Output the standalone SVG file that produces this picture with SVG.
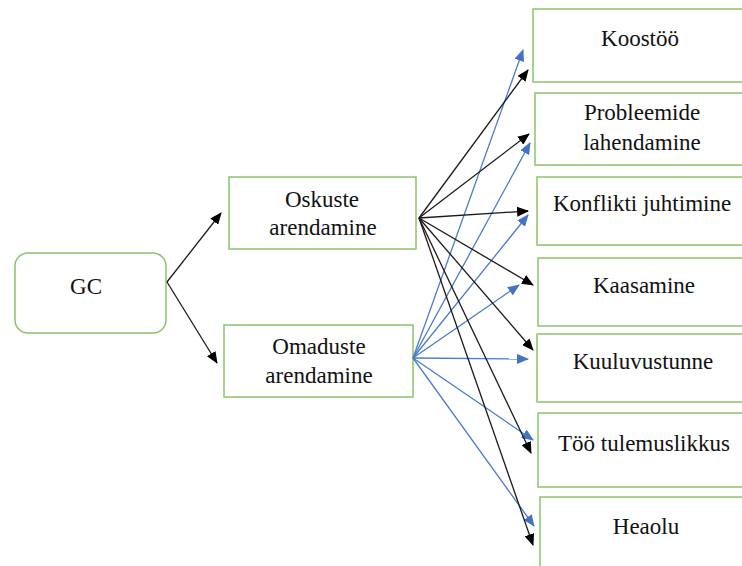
<svg xmlns="http://www.w3.org/2000/svg" width="742" height="566" viewBox="0 0 742 566">
<style>
.box{fill:#fff;stroke:#8cc36c;stroke-width:1.5}
.t{font-family:"Liberation Serif","Times New Roman","DejaVu Serif",serif;font-size:23px;fill:#111;text-anchor:middle}
.k{stroke:#1a1a1a;stroke-width:1.3;fill:none}
.b{stroke:#4a7cc9;stroke-width:1.3;fill:none}
</style>
<defs>
<marker id="ak" markerUnits="userSpaceOnUse" markerWidth="12" markerHeight="10" refX="11" refY="5" orient="auto">
<path d="M0,0 L12,5 L0,10 Z" fill="#000"/>
</marker>
<marker id="ab" markerUnits="userSpaceOnUse" markerWidth="12" markerHeight="10" refX="11" refY="5" orient="auto">
<path d="M0,0 L12,5 L0,10 Z" fill="#4472c4"/>
</marker>
</defs>
<rect width="742" height="566" fill="#fff"/>
<g id="gc"><rect class="box" x="15" y="253" width="151" height="80" rx="13"/><text class="t" x="86" y="294">GC</text></g>
<g id="oskuste"><rect class="box" x="229" y="177" width="187" height="72"/><text class="t" x="322" y="207">Oskuste</text><text class="t" x="323" y="235">arendamine</text></g>
<g id="omaduste"><rect class="box" x="224" y="325" width="189" height="72"/><text class="t" x="319" y="354">Omaduste</text><text class="t" x="319" y="383">arendamine</text></g>
<g id="koostoo"><rect class="box" x="533" y="9" width="220" height="73"/><text class="t" x="640" y="46">Koostöö</text></g>
<g id="probleemide"><rect class="box" x="535" y="93" width="220" height="72"/><text class="t" x="642" y="120">Probleemide</text><text class="t" x="642" y="150">lahendamine</text></g>
<g id="konflikti"><rect class="box" x="537" y="177" width="220" height="68"/><text class="t" x="642" y="211">Konflikti juhtimine</text></g>
<g id="kaasamine"><rect class="box" x="538" y="258" width="220" height="68"/><text class="t" x="644" y="293">Kaasamine</text></g>
<g id="kuuluvustunne"><rect class="box" x="537" y="334" width="220" height="68"/><text class="t" x="643" y="369">Kuuluvustunne</text></g>
<g id="too"><rect class="box" x="538" y="413" width="220" height="74"/><text class="t" x="644" y="451">Töö tulemuslikkus</text></g>
<g id="heaolu"><rect class="box" x="540" y="497" width="220" height="80"/><text class="t" x="646" y="534">Heaolu</text></g>
<g id="connectors">
<path class="k" d="M167,282 L221,213" marker-end="url(#ak)"/>
<path class="k" d="M167,282 L217,363" marker-end="url(#ak)"/>
<path class="b" d="M413,358 L523,50" marker-end="url(#ab)"/>
<path class="b" d="M413,358 L530,143" marker-end="url(#ab)"/>
<path class="b" d="M413,358 L528,215" marker-end="url(#ab)"/>
<path class="b" d="M413,358 L519,285" marker-end="url(#ab)"/>
<path class="b" d="M413,358 L528,359" marker-end="url(#ab)"/>
<path class="b" d="M413,358 L533,440" marker-end="url(#ab)"/>
<path class="b" d="M413,358 L534,526" marker-end="url(#ab)"/>
<path class="k" d="M419,218 L528,70" marker-end="url(#ak)"/>
<path class="k" d="M419,218 L529,134" marker-end="url(#ak)"/>
<path class="k" d="M419,218 L528,211" marker-end="url(#ak)"/>
<path class="k" d="M419,218 L533,285" marker-end="url(#ak)"/>
<path class="k" d="M419,218 L533,350" marker-end="url(#ak)"/>
<path class="k" d="M419,218 L531,453" marker-end="url(#ak)"/>
<path class="k" d="M419,218 L533,545" marker-end="url(#ak)"/>
</g>
</svg>
